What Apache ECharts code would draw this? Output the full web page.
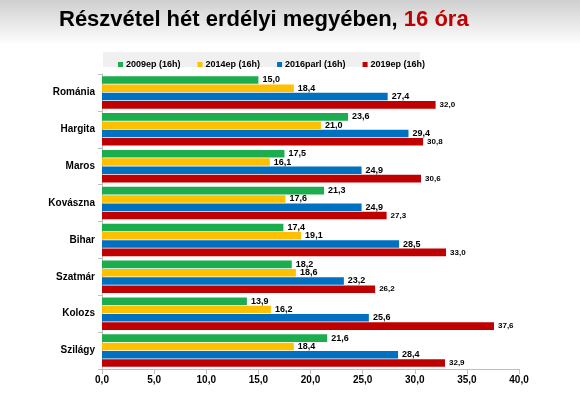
<!DOCTYPE html>
<html><head><meta charset="utf-8">
<script src="https://cdn.jsdelivr.net/npm/echarts@6/dist/echarts.min.js"></script>
<style>html,body{margin:0;padding:0;background:#fff}#c{width:580px;height:394px}</style>
</head><body><div id="c"></div>
<script>
const categories = ['Románia','Hargita','Maros','Kovászna','Bihar','Szatmár','Kolozs','Szilágy'];
const seriesNames = ['2009ep (16h)','2014ep (16h)','2016parl (16h)','2019ep (16h)'];
const s2009 = [15.0,23.6,17.5,21.3,17.4,18.2,13.9,21.6];
const s2014 = [18.4,21.0,16.1,17.6,19.1,18.6,16.2,18.4];
const s2016 = [27.4,29.4,24.9,24.9,28.5,23.2,25.6,28.4];
const s2019 = [32.0,30.8,30.6,27.3,33.0,26.2,37.6,32.9];
const colors = ['#1cae4e','#ffc000','#0070c0','#c00000'];
const fmt = v => v.toFixed(1).replace('.', ',');
const chart = echarts.init(document.getElementById('c'));
const data = [s2009,s2014,s2016,s2019];
chart.setOption({
  animation:false,
  textStyle:{fontFamily:'Liberation Sans, Arial, sans-serif'},
  graphic:[
    {type:'rect',left:0,top:0,shape:{width:580,height:45},z:-10,silent:true,
     style:{fill:new echarts.graphic.LinearGradient(0,0,0,1,[{offset:0,color:'#cfcfcf'},{offset:1,color:'#ffffff'}])}},
    {type:'rect',left:103,top:52,shape:{width:317,height:15},z:-5,silent:true,style:{fill:'#f0f0f0'}}
  ],
  title:{
    text:'{a|Részvétel hét erdélyi megyében, }{b|16 óra}',
    left:54,top:4,
    textStyle:{rich:{
      a:{fontSize:22,fontWeight:'bold',color:'#000',fontFamily:'Liberation Sans, Arial, sans-serif'},
      b:{fontSize:22,fontWeight:'bold',color:'#c00000',fontFamily:'Liberation Sans, Arial, sans-serif'}
    }}
  },
  legend:{
    data:seriesNames,left:113,top:55,itemWidth:5,itemHeight:5,itemGap:17,icon:'rect',
    textStyle:{fontSize:9,fontWeight:'bold',color:'#000',padding:[0,0,0,-2]}
  },
  grid:{left:102,right:61,top:74,bottom:25,containLabel:false},
  xAxis:{type:'value',min:0,max:40,interval:5,
    axisLine:{show:true,lineStyle:{color:'#bfbfbf'}},
    axisTick:{show:true,lineStyle:{color:'#bfbfbf'}},
    splitLine:{show:false},
    axisLabel:{formatter:fmt,fontSize:10,fontWeight:'bold',color:'#000',margin:6}},
  yAxis:{type:'category',data:categories,inverse:true,
    axisLine:{show:true,lineStyle:{color:'#bfbfbf'}},
    axisTick:{show:true,length:4,lineStyle:{color:'#bfbfbf'}},
    axisLabel:{fontSize:10,fontWeight:'bold',color:'#000',margin:7}},
  series:data.map((d,i)=>({
    name:seriesNames[i],type:'bar',data:d,barGap:'10%',barCategoryGap:'12%',
    itemStyle:{color:colors[i]},
    label:{show:true,position:'right',distance:4,formatter:p=>fmt(p.value),
      fontSize:i===3?8:9,fontWeight:'bold',color:'#000'}
  }))
});
</script></body></html>
